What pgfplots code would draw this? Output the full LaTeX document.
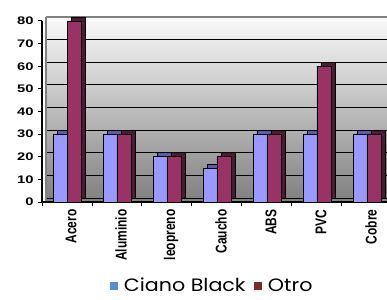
\documentclass[border=0pt]{standalone}
\usepackage{fontspec}
\usepackage{graphicx}
\setmainfont{Liberation Sans}
\newfontfamily\legfont[FakeStretch=1.15]{Poppins}
\newfontfamily\yfont[FakeStretch=1.35]{Liberation Sans Bold}
\usepackage{pgfplots}
\usepackage{pgfplotstable}
\pgfplotsset{compat=1.18}
\definecolor{barblue}{HTML}{9999FF}
\definecolor{barred}{HTML}{993366}
\definecolor{sideblue}{HTML}{5C5CA6}
\definecolor{sidered}{HTML}{4D1A33}
\definecolor{legblue}{HTML}{558ED5}
\definecolor{legred}{HTML}{772C2A}
\newcommand{\xl}[1]{\scalebox{1}[1.3]{#1}}

\pgfplotstableread{
x blue red
0 30 80
1 30 30
2 20 20
3 15 20
4 30 30
5 30 60
6 30 30
}\data

\begin{document}
\begin{tikzpicture}
\useasboundingbox (0bp,0bp) rectangle (387bp,300bp);
% back wall
\begin{axis}[
  at={(46bp,98bp)}, anchor=south west, scale only axis,
  width=345bp, height=185bp,
  xmin=-0.5, xmax=6.4, ymin=-1.77, ymax=80,
  axis background/.style={shade, top color=black!2, bottom color=black!50},
  axis x line*=top, axis y line*=left,
  axis line style={draw=black!50, line width=1.5bp, -},
  xtick=\empty, ytick={0,10,...,80}, yticklabels={},
  major tick length=0pt,
  ymajorgrids, grid style={black, line width=0.9bp},
]
\end{axis}
% front
\begin{axis}[
  at={(42bp,98bp)}, anchor=south west, scale only axis,
  width=345bp, height=181bp,
  xmin=-0.5, xmax=6.4, ymin=0, ymax=80,
  clip=false,
  axis lines*=left,
  axis line style={black, line width=1.2bp, -},
  tick align=outside,
  ytick={0,10,...,80},
  major tick length=4bp,
  y tick style={black, line width=1bp},
  xtick={0,...,6},
  xticklabels={\xl{Acero},\xl{Aluminio},\xl{leopreno},\xl{Caucho},\xl{ABS},\xl{PVC},\xl{Cobre}},
  major x tick style={draw=none},
  minor xtick={-0.5,0.5,...,6.5},
  minor x tick style={black, line width=1bp},
  minor tick length=4bp,
  /pgf/number format/assume math mode=true,
  yticklabel style={font=\yfont\fontsize{11}{11}\selectfont, xshift=-1bp},
  xticklabel style={font=\bfseries\fontsize{12}{12}\selectfont, rotate=90, anchor=east, yshift=-4bp},
  legend style={at={(0.493,-0.462)}, anchor=center, draw=none, fill=none,
    inner sep=0pt,
    font=\legfont\fontsize{18}{20}\selectfont,
    /tikz/every odd column/.append style={column sep=5bp},
    /tikz/every even column/.append style={column sep=6bp}},
  legend columns=2,
]
\addplot[ybar, bar width=0.28, bar shift=-0.14, fill=sideblue, draw=black, line width=0.7bp, xshift=4bp, yshift=4bp, forget plot] table[x=x,y=blue]{\data};
\addplot[ybar, bar width=0.28, bar shift=-0.14, fill=barblue, draw=black, line width=0.7bp, forget plot] table[x=x,y=blue]{\data};
\addplot[ybar, bar width=0.28, bar shift=0.14, fill=sidered, draw=black, line width=0.7bp, xshift=4bp, yshift=4bp, forget plot] table[x=x,y=red]{\data};
\addplot[ybar, bar width=0.28, bar shift=0.14, fill=barred, draw=black, line width=0.7bp, forget plot] table[x=x,y=red]{\data};
\addlegendimage{legend image code/.code={\fill[legblue] (0bp,-3.5bp) rectangle (7bp,3.5bp);}}
\addlegendentry{Ciano Black}
\addlegendimage{legend image code/.code={\fill[legred] (0bp,-3.5bp) rectangle (7bp,3.5bp);}}
\addlegendentry{Otro}
\end{axis}
\end{tikzpicture}
\end{document}
